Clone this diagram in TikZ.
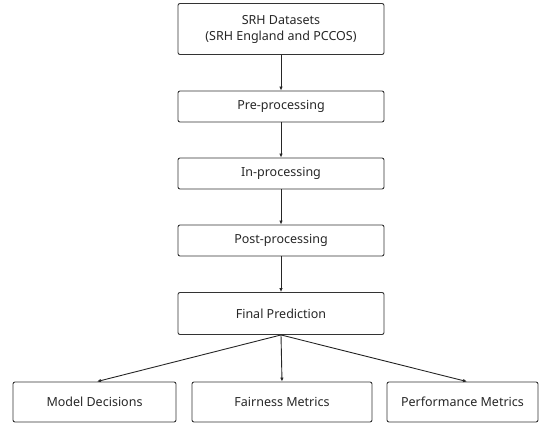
\documentclass[tikz,border=0pt]{standalone}
\usepackage{fontspec}
\setmainfont{Noto Sans}
\usetikzlibrary{arrows.meta}
\begin{document}
\begin{tikzpicture}[x=1pt,y=-1pt,
  box/.style={draw=black!80,line width=0.9pt,rounded corners=2pt,inner sep=0pt,font=\fontsize{12.5}{16}\selectfont,align=center,text=black!85},
  arr/.style={draw=black!85,line width=0.9pt,-{Latex[length=4pt,width=3.5pt]}}]
\useasboundingbox (0,0) rectangle (540,423);
\node[box,minimum width=206pt,minimum height=51pt] (ds) at (281,29) {SRH Datasets\\(SRH England and PCCOS)};
\node[box,minimum width=206pt,minimum height=31pt] (pre) at (281,106.5) {Pre-processing};
\node[box,minimum width=206pt,minimum height=31pt] (in) at (281,173.5) {In-processing};
\node[box,minimum width=206pt,minimum height=31pt] (post) at (281,240.5) {Post-processing};
\node[box,minimum width=206pt,minimum height=42pt] (fin) at (281,313.5) {Final Prediction};
\node[box,minimum width=163pt,minimum height=40pt] (md) at (94.5,402) {Model Decisions};
\node[box,minimum width=180pt,minimum height=40pt] (fm) at (282,402) {Fairness Metrics};
\node[box,minimum width=151pt,minimum height=40pt] (pm) at (462.5,402) {Performance Metrics};
\draw[arr] (ds) -- (pre);
\draw[arr] (pre) -- (in);
\draw[arr] (in) -- (post);
\draw[arr] (post) -- (fin);
\draw[arr] (fin.south) -- (md.north -| 97,0);
\draw[arr] (fin.south) -- (fm.north);
\draw[arr] (fin.south) -- (pm.north -| 467,0);
\end{tikzpicture}
\end{document}
